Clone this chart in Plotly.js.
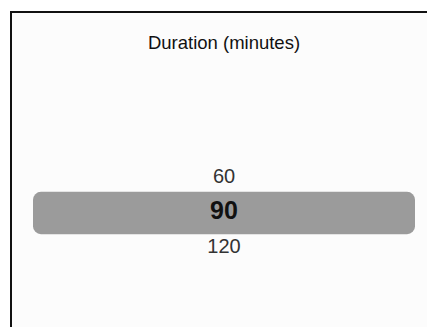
<!DOCTYPE html>
<html>
<head>
<meta charset="utf-8">
<script src="https://cdn.plot.ly/plotly-3.0.1.min.js"></script>
<style>
  html, body { margin: 0; padding: 0; background: #ffffff; overflow: hidden; }
  #frame { position: absolute; left: 10px; top: 11px; width: 440px; height: 340px;
           border-left: 2px solid #111; border-top: 2px solid #111; background: #fcfcfc; }
  #chart { position: absolute; left: 0; top: 0; width: 427px; height: 327px; }
</style>
</head>
<body>
<div id="frame"></div>
<div id="chart"></div>
<script>
// Data
const titleText = "Duration (minutes)";
const options = ["60", "90", "120"];
const selected = "90";

const others = options.filter(o => o !== selected);

const barTrace = {
  type: "bar",
  orientation: "h",
  y: [selected],
  x: [1],
  base: [0],
  width: [1.21],
  marker: { color: "#9b9b9b", line: { width: 0 } },
  hoverinfo: "skip",
  showlegend: false
};

const otherText = {
  type: "scatter",
  mode: "text",
  y: others,
  x: others.map(() => 0.5),
  text: others,
  textposition: "middle center",
  textfont: { family: "Arial, Liberation Sans, sans-serif", size: 20, color: "#333333" },
  hoverinfo: "skip",
  showlegend: false
};

const selText = {
  type: "scatter",
  mode: "text",
  y: [selected],
  x: [0.5],
  text: ["<b>" + selected + "</b>"],
  textposition: "middle center",
  textfont: { family: "Arial, Liberation Sans, sans-serif", size: 25, color: "#111111" },
  hoverinfo: "skip",
  showlegend: false
};

const layout = {
  width: 427,
  height: 327,
  margin: { l: 33, r: 12, t: 0, b: 0, pad: 0 },
  paper_bgcolor: "rgba(0,0,0,0)",
  plot_bgcolor: "rgba(0,0,0,0)",
  barcornerradius: 8,
  title: {
    text: titleText,
    font: { family: "Arial, Liberation Sans, sans-serif", size: 18.5, color: "#111111" },
    x: 0.5, xref: "paper", xanchor: "center",
    y: 1 - 43 / 327, yref: "container", yanchor: "middle"
  },
  xaxis: { range: [0, 1], visible: false, fixedrange: true },
  yaxis: {
    type: "category",
    categoryorder: "array",
    categoryarray: options,
    range: [4.257, -5.086],
    visible: false,
    fixedrange: true
  },
  showlegend: false
};

Plotly.newPlot("chart", [barTrace, otherText, selText], layout, { displayModeBar: false, staticPlot: true });
</script>
</body>
</html>
